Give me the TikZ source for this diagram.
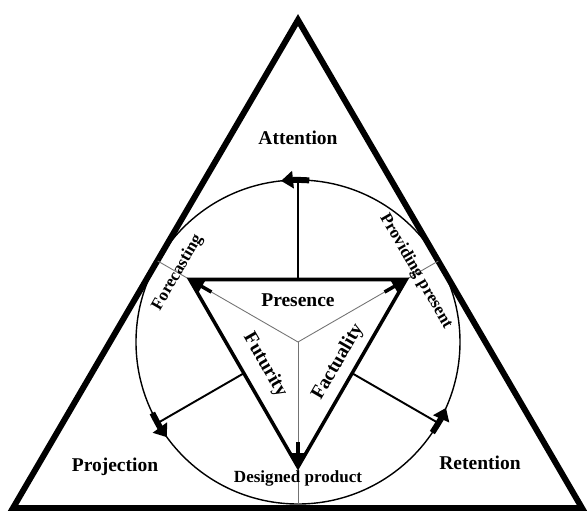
\documentclass[tikz,border=0pt]{standalone}
\usepackage{fontspec}
\setmainfont{Liberation Serif}
\usepackage{tikz}
\usetikzlibrary{calc}
\usetikzlibrary{arrows.meta}
\tikzset{
  frame/.style={draw=black,line width=3.4pt,line join=miter},
  ring/.style={draw=black,line width=0.8pt},
  inner/.style={draw=black,line width=2pt,line join=miter},
  spoke/.style={draw=black!55,line width=0.5pt},
  ray/.style={draw=black,line width=1.1pt},
}
\tikzset{turn/.style={line width=3.4pt,-{Triangle[length=0.24cm,width=0.34cm]}}, cue/.style={line width=2pt,-{Triangle[length=0.28cm,width=0.26cm]}},
  big/.style={font=\fontsize{11.1}{13}\selectfont\bfseries,inner sep=0pt}, lab/.style={font=\fontsize{9.7}{11}\selectfont\bfseries,inner sep=0pt}}

\begin{document}
\begin{tikzpicture}
\useasboundingbox (-5.96,-3.4) rectangle (5.78,6.84);
\coordinate (O) at (0,0);
\coordinate (ta) at (0,6.44);
\coordinate (tb) at (-5.7,-3.32);
\coordinate (tc) at (5.68,-3.32);
\coordinate (vf) at (150:2.5);
\coordinate (vp) at (30:2.5);
\coordinate (vd) at (270:2.5);
\coordinate (ef) at (150:3.24);
\coordinate (ep) at (30:3.24);
\coordinate (ed) at (270:3.24);
\coordinate (mt) at (90:1.25);
\coordinate (ml) at (210:1.25);
\coordinate (mr) at (330:1.25);
\coordinate (rt) at (90:3.24);
\coordinate (rl) at (210:3.24);
\coordinate (rr) at (330:3.24);
\coordinate (at) at (86:3.24);
\coordinate (al) at (206:3.24);
\coordinate (ar) at (326:3.24);
\coordinate (sf) at (150:2.0);
\coordinate (sp) at (30:2.0);
\coordinate (sd) at (270:2.0);
\draw[frame] (ta)--(tb)--(tc)--cycle;
\draw[ring] (O) circle (3.24);
\draw[spoke] (O)--(ef);
\draw[spoke] (O)--(ep);
\draw[spoke] (O)--(ed);
\draw[ray] (mt)--(rt);
\draw[ray] (ml)--(rl);
\draw[ray] (mr)--(rr);
\draw[inner] (vf)--(vp)--(vd)--cycle;
\draw[cue] (sf)--(vf);
\draw[cue] (sp)--(vp);
\draw[cue] (sd)--(vd);
\draw[turn] (at) arc[start angle=86,end angle=96,radius=3.24];
\draw[turn] (al) arc[start angle=206,end angle=216,radius=3.24];
\draw[turn] (ar) arc[start angle=326,end angle=336,radius=3.24];
\node[big] (attn) at (0,4.08) {Attention};
\node[big] (proj) at (-3.66,-2.5) {Projection};
\node[big] (ret) at (3.64,-2.42) {Retention};
\node[big] (pres) at (0,0.84) {Presence};
\node[big,rotate=-60] (fut) at (-0.66,-0.46) {Futurity};
\node[big,rotate=60] (fact) at (0.8,-0.4) {Factuality};
\node[lab,rotate=60] (fore) at (150:2.78) {Forecasting};
\node[lab,rotate=-60] (prov) at (31:2.75) {Providing present};
\node[lab] (des) at (0,-2.72) {Designed product};
\end{tikzpicture}
\end{document}
